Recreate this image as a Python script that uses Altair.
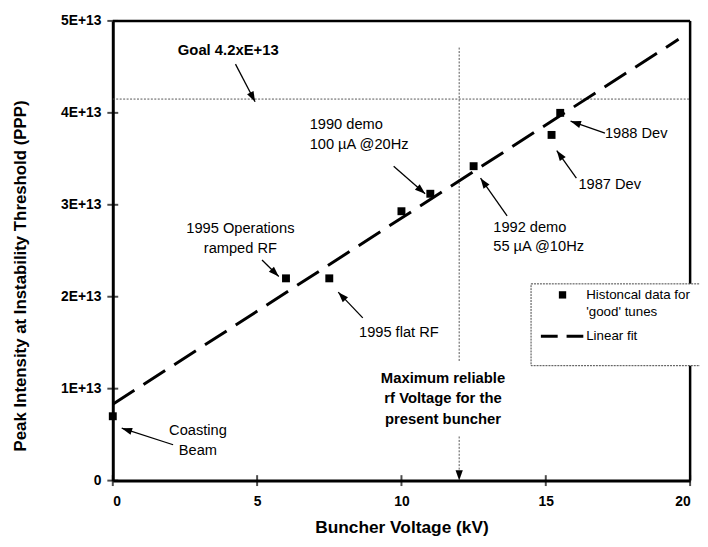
import math
import altair as alt
import pandas as pd

FONT = "Liberation Sans"

# ---- data ----
pt_x = [0.0, 6.0, 7.5, 10.0, 11.0, 12.5, 15.2, 15.5]
pt_y = [0.70e13, 2.20e13, 2.20e13, 2.93e13, 3.12e13, 3.42e13, 3.76e13, 4.00e13]

fit_x = [0.0, 19.6]
fit_y = [0.83e13, 4.80e13]

goal_y = 4.15e13
max_v = 12.0

y_ticks = [0, 1e13, 2e13, 3e13, 4e13, 5e13]
x_ticks = [0, 5, 10, 15, 20]

# annotation texts: (x, y, text, align, bold)
notes = [
    (4.0, 4.68e13, "Goal 4.2xE+13", "center", True),
    (6.82, 3.87e13, "1990 demo", "left", False),
    (6.82, 3.65e13, "100 \u00b5A @20Hz", "left", False),
    (13.18, 2.75e13, "1992 demo", "left", False),
    (13.18, 2.54e13, "55 \u00b5A @10Hz", "left", False),
    (17.05, 3.77e13, "1988 Dev", "left", False),
    (16.13, 3.22e13, "1987 Dev", "left", False),
    (4.42, 2.74e13, "1995 Operations", "center", False),
    (4.42, 2.52e13, "ramped RF", "center", False),
    (8.53, 1.61e13, "1995 flat RF", "left", False),
    (2.95, 0.54e13, "Coasting", "center", False),
    (2.95, 0.32e13, "Beam", "center", False),
    (11.44, 1.12e13, "Maximum reliable", "center", True),
    (11.44, 0.90e13, "rf Voltage for the", "center", True),
    (11.44, 0.67e13, "present buncher", "center", True),
]

# arrows: start (x, y) -> tip (x, y)
arrow_x0 = [4.25, 9.73, 13.66, 17.05, 16.06, 5.17, 8.66, 2.09]
arrow_y0 = [4.53e13, 3.42e13, 2.88e13, 3.78e13, 3.29e13, 2.40e13, 1.77e13, 0.39e13]
arrow_x1 = [4.93, 10.82, 12.74, 15.86, 15.38, 5.75, 7.81, 0.31]
arrow_y1 = [4.12e13, 3.12e13, 3.29e13, 3.91e13, 3.59e13, 2.22e13, 2.05e13, 0.57e13]

# legend
leg_box = (14.49, 20.6, 1.25e13, 2.14e13)
leg_sym = (15.58, 2.02e13)
leg_line = (14.83, 16.3, 1.57e13)
leg_text = [(16.4, 2.02e13, "Histoncal data for"), (16.4, 1.83e13, "'good' tunes"),
            (16.4, 1.57e13, "Linear fit")]

# ---- chart ----
W, H = 584, 465
xs = alt.Scale(domain=[0, 20], nice=False)
ys = alt.Scale(domain=[0, 5e13], nice=False)
PX, PY = W / 20.0, H / 5e13

xa = alt.Axis(values=x_ticks, ticks=False, grid=False, domainWidth=3, domainColor="black",
              labelFont=FONT, labelFontWeight="bold", labelFontSize=14, labelColor="black",
              labelPadding=14, title="Buncher Voltage (kV)", titleFont=FONT,
              titleFontSize=17.5, titleFontWeight="bold", titleColor="black",
              titleY=53, titleBaseline="alphabetic")
ya = alt.Axis(values=y_ticks, ticks=False, grid=False, domainWidth=3, domainColor="black",
              labelFont=FONT, labelFontWeight="bold", labelFontSize=14, labelColor="black",
              labelPadding=12,
              labelExpr="datum.value == 0 ? '0' : format(datum.value / 1e13, 'd') + 'E+13'",
              title="Peak Intensity at Instability Threshold (PPP)", titleFont=FONT,
              titleFontSize=17, titleFontWeight="bold", titleColor="black",
              titleX=-88, titleY=H / 2 + 25, titleBaseline="alphabetic")

X = lambda f: alt.X(f, type="quantitative", scale=xs, axis=xa)
Y = lambda f: alt.Y(f, type="quantitative", scale=ys, axis=ya)

base_df = pd.DataFrame({"x": pt_x, "y": pt_y})

frame_top = alt.Chart(pd.DataFrame({"x": [0], "x2": [20], "y": [5e13]})).mark_rule(
    color="black", strokeWidth=2.5).encode(x=X("x"), x2="x2:Q", y=Y("y"))
frame_right = alt.Chart(pd.DataFrame({"x": [20], "y": [0], "y2": [5e13]})).mark_rule(
    color="black", strokeWidth=2.5).encode(x=X("x"), y=Y("y"), y2="y2:Q")

ytk = alt.Chart(pd.DataFrame({"x": [0] * len(y_ticks), "y": y_ticks})).mark_tick(
    orient="horizontal", size=11, thickness=2, color="black").encode(x=X("x"), y=Y("y"))
xtk = alt.Chart(pd.DataFrame({"x": x_ticks, "y": [0] * len(x_ticks)})).mark_tick(
    orient="vertical", size=11, thickness=2, color="black").encode(x=X("x"), y=Y("y"))

goal = alt.Chart(pd.DataFrame({"x": [0], "x2": [20], "y": [goal_y]})).mark_rule(
    color="#555", strokeWidth=1, strokeDash=[2, 1.5]).encode(x=X("x"), x2="x2:Q", y=Y("y"))

vline = alt.Chart(pd.DataFrame({"x": [max_v, max_v], "y": [4.71e13, 0.48e13],
                                "y2": [1.29e13, 0.06e13]})).mark_rule(
    color="#555", strokeWidth=1, strokeDash=[2, 1.5]).encode(x=X("x"), y=Y("y"), y2="y2:Q")

HEAD = "M0,0L-0.7,2L0.7,2Z"
vhead = alt.Chart(pd.DataFrame({"x": [max_v], "y": [0.0]})).mark_point(
    shape=HEAD, filled=True, color="black", opacity=1, size=110, angle=180
).encode(x=X("x"), y=Y("y"))

fit = alt.Chart(pd.DataFrame({"x": fit_x, "y": fit_y})).mark_line(
    color="black", strokeWidth=3, strokeDash=[26, 11]).encode(x=X("x"), y=Y("y"))

pts = alt.Chart(base_df).mark_point(shape="square", filled=True, color="black",
                                     opacity=1, size=64).encode(x=X("x"), y=Y("y"))

adf = pd.DataFrame({"x": arrow_x0, "y": arrow_y0, "x2": arrow_x1, "y2": arrow_y1})
adf["ang"] = [
    (math.degrees(math.atan2((b - a) * PX, (d - c) * PY)) + 360) % 360
    for a, b, c, d in zip(arrow_x0, arrow_x1, arrow_y0, arrow_y1)
]
shafts = alt.Chart(adf).mark_rule(color="black", strokeWidth=1.3).encode(
    x=X("x"), y=Y("y"), x2="x2:Q", y2="y2:Q")
heads = alt.Chart(adf).mark_point(shape=HEAD, filled=True, color="black", opacity=1,
                                  size=110).encode(
    x=X("x2"), y=Y("y2"), angle=alt.Angle("ang:Q", scale=None))

ndf = pd.DataFrame(notes, columns=["x", "y", "t", "al", "b"])
txt_layers = []
for al in ["left", "center"]:
    for b in [True, False]:
        sub = ndf[(ndf.al == al) & (ndf.b == b)]
        if len(sub) == 0:
            continue
        txt_layers.append(alt.Chart(sub).mark_text(
            align=al, baseline="middle", font=FONT, fontSize=15 if b else 14.8,
            fontWeight="bold" if b else "normal", color="black"
        ).encode(x=X("x"), y=Y("y"), text="t:N"))

lbox = alt.Chart(pd.DataFrame({"x": [leg_box[0]], "x2": [leg_box[1]], "y": [leg_box[2]],
                               "y2": [leg_box[3]]})).mark_rect(
    fill="white", stroke="#444", strokeWidth=1, strokeDash=[2, 1], clip=False
).encode(x=X("x"), x2="x2:Q", y=Y("y"), y2="y2:Q")
lsym = alt.Chart(pd.DataFrame({"x": [leg_sym[0]], "y": [leg_sym[1]]})).mark_point(
    shape="square", filled=True, color="black", opacity=1, size=55).encode(x=X("x"), y=Y("y"))
lline = alt.Chart(pd.DataFrame({"x": [leg_line[0], leg_line[1]],
                                "y": [leg_line[2], leg_line[2]]})).mark_line(
    color="black", strokeWidth=3, strokeDash=[17, 9]).encode(x=X("x"), y=Y("y"))
ltxt = alt.Chart(pd.DataFrame(leg_text, columns=["x", "y", "t"])).mark_text(
    align="left", baseline="middle", font=FONT, fontSize=13.5, color="black", clip=False
).encode(x=X("x"), y=Y("y"), text="t:N")

chart = alt.layer(
    frame_top, frame_right, goal, vline, fit, shafts, heads, vhead, pts, *txt_layers,
    lbox, lsym, lline, ltxt, ytk, xtk
).properties(
    width=W, height=H,
    autosize=alt.AutoSizeParams(type="none"),
    padding={"left": 106, "top": 10, "right": 10, "bottom": 56},
).configure_view(stroke=None).configure(background="white")

chart.save("out.html", embed_options={"renderer": "svg", "actions": False})
